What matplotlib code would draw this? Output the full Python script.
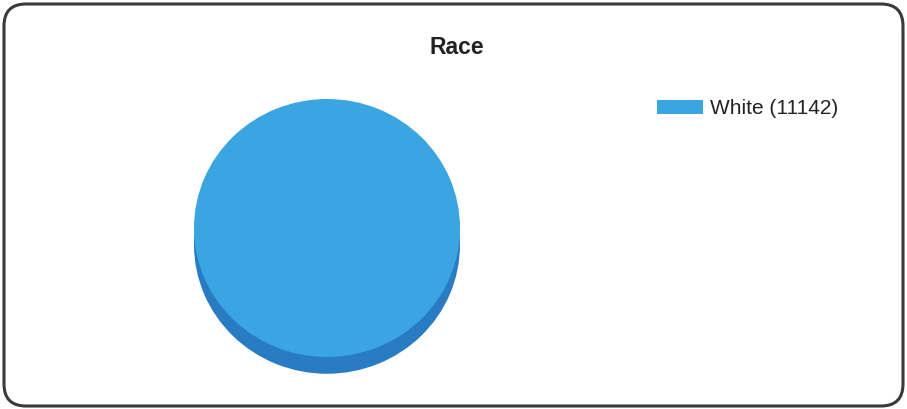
import matplotlib
matplotlib.use("Agg")
import matplotlib.pyplot as plt
import matplotlib.patches as mpatches
from matplotlib.transforms import IdentityTransform

categories = ["White"]
values = [11142]
title = "Race"
top_colors = ["#3aa5e0"]
side_colors = ["#2a7cc2"]

W, H = 907, 409
fig = plt.figure(figsize=(W / 100, H / 100), dpi=100)
plt.rcParams['font.family'] = ['Liberation Sans', 'DejaVu Sans']

# rounded border
border = mpatches.FancyBboxPatch((4, 3), W - 8, H - 7,
                                 boxstyle="round,pad=0,rounding_size=22",
                                 transform=IdentityTransform(),
                                 facecolor="none", edgecolor="#3a3a3a",
                                 linewidth=2.2, zorder=5)
fig.patches.append(border)

# pie axes (pixel layout)
ax_l, ax_r, ax_t, ax_b = 177, 477, 80, 390
ax = fig.add_axes([ax_l / W, 1 - ax_b / H, (ax_r - ax_l) / W, (ax_b - ax_t) / H])
depth = 0.13
ax.pie(values, colors=side_colors, center=(0, -depth), startangle=90,
       wedgeprops=dict(linewidth=0))
wedges, _ = ax.pie(values, colors=top_colors, center=(0, 0), startangle=90,
                   wedgeprops=dict(linewidth=0))
ax.set_aspect('auto')
ax.set_xlim(-150 / 133, 150 / 133)
ax.set_ylim(-162 / 129, 148 / 129)
ax.axis('off')

fig.text(457 / W, 1 - 47 / H, title, ha='center', va='center',
         fontsize=16.5, fontweight='bold', color='#222222')

labels = [f"{c} ({v})" for c, v in zip(categories, values)]
fig.legend(wedges, labels, loc='center left',
           bbox_to_anchor=(638.5 / W, 1 - 109 / H), frameon=False,
           fontsize=15, handlelength=2.2, handleheight=0.67,
           handletextpad=0.33, labelcolor='#222222')

fig.savefig("out.png", dpi=100, facecolor="white")
